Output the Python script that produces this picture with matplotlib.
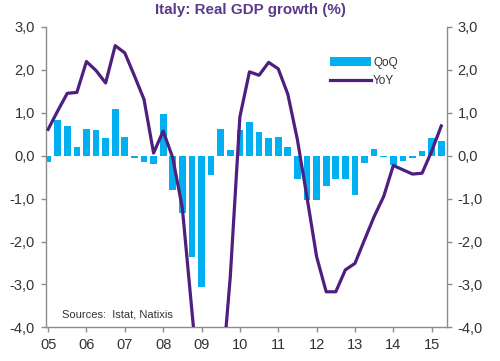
import matplotlib
matplotlib.use('Agg')
import matplotlib.pyplot as plt
import numpy as np

plt.rcParams['font.family'] = ['Liberation Sans', 'DejaVu Sans']

# quarterly data, 2005Q1 .. 2015Q2
qoq = [-0.15, 0.82, 0.70, 0.20, 0.62, 0.59, 0.41, 1.09, 0.44, -0.05,
       -0.15, -0.20, 0.96, -0.80, -1.34, -2.37, -3.07, -0.45, 0.62, 0.14,
       0.59, 0.78, 0.55, 0.41, 0.44, 0.20, -0.55, -1.04, -1.04, -0.71,
       -0.55, -0.55, -0.92, -0.17, 0.16, -0.04, -0.21, -0.13, -0.05, 0.10,
       0.41, 0.35]
yoy = [0.61, 1.04, 1.45, 1.47, 2.19, 1.98, 1.69, 2.56, 2.39, 1.86,
       1.31, 0.06, 0.57, -0.05, -1.22, -3.62, -6.0, -6.3, -5.5, -2.82,
       0.90, 1.95, 1.87, 2.17, 2.02, 1.43, 0.37, -0.97, -2.35, -3.17,
       -3.17, -2.66, -2.51, -1.96, -1.42, -0.95, -0.23, -0.33, -0.43, -0.41,
       0.10, 0.69]
year_labels = ['05', '06', '07', '08', '09', '10', '11', '12', '13', '14', '15']
y_ticks = [3, 2, 1, 0, -1, -2, -3, -4]
y_labels = ['3,0', '2,0', '1,0', '0,0', '-1,0', '-2,0', '-3,0', '-4,0']

bar_col = '#00B0F0'
line_col = '#4E1F7E'
grey = '#8C8C8C'
txt = '#333333'

fig = plt.figure(figsize=(5, 3.61), dpi=100)
ax = fig.add_axes([0.091, 0.093, 0.803, 0.833])
x = np.arange(len(qoq))
bars = ax.bar(x, qoq, width=0.7, color=bar_col, label='QoQ', zorder=2)
line, = ax.plot(x, yoy, color=line_col, lw=2.3, label='YoY', zorder=3)

ax.set_xlim(-0.27, 41.6)
ax.set_ylim(-4, 3)
ax.set_xticks(np.arange(0, 44, 4))
ax.set_xticklabels(year_labels, fontsize=10.5, color=txt)
ax.set_yticks(y_ticks)
ax.set_yticklabels(y_labels, fontsize=10.5, color=txt)

ax2 = ax.twinx()
ax2.set_ylim(-4, 3)
ax2.set_yticks(y_ticks)
ax2.set_yticklabels(y_labels, fontsize=10.5, color=txt)

for a in (ax, ax2):
    a.spines['top'].set_visible(False)
    for s in ('left', 'right', 'bottom'):
        a.spines[s].set_color(grey)
        a.spines[s].set_linewidth(1.0)
    a.tick_params(colors=grey, labelcolor=txt, length=3.5, width=1.0, pad=4)
ax.spines['right'].set_visible(False)
ax2.spines['left'].set_visible(False)
ax2.spines['bottom'].set_visible(False)

leg = ax2.legend([bars, line], ['QoQ', 'YoY'], loc='upper left',
                 bbox_to_anchor=(0.66, 0.843), bbox_transform=fig.transFigure,
                 frameon=False, fontsize=8.5, handlelength=3.5,
                 handleheight=0.85, handletextpad=0.15, labelspacing=0.55,
                 borderpad=0, borderaxespad=0)
for t in leg.get_texts():
    t.set_color(txt)

fig.text(0.5, 0.972, 'Italy: Real GDP growth (%)', ha='center', va='center',
         fontsize=10.9, fontweight='bold', color='#5B3A8C')
fig.text(0.123, 0.13, 'Sources:  Istat, Natixis', fontsize=8, color=txt,
         va='center', ha='left')

fig.savefig('out.png', dpi=100)
